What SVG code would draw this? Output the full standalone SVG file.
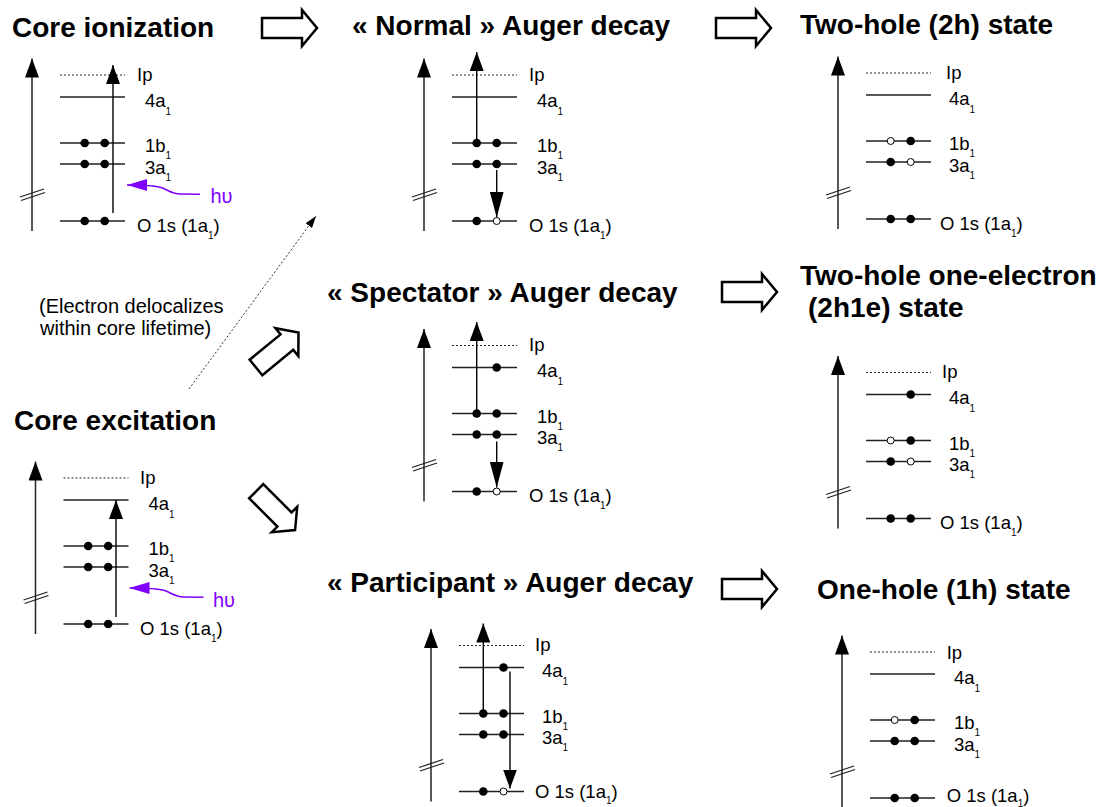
<svg xmlns="http://www.w3.org/2000/svg" width="1103" height="807" viewBox="0 0 1103 807">
<defs>
<style>
.lv{stroke:#222;stroke-width:1.3;fill:none}
.ip{stroke:#222;stroke-width:1;stroke-dasharray:2 2;fill:none}
.ax{stroke:#222;stroke-width:1.5;fill:none;marker-end:url(#ah)}
.ar{stroke:#000;stroke-width:1.4;fill:none;marker-end:url(#ah)}
.arl{stroke:#000;stroke-width:1.4;fill:none;marker-end:url(#ahl)}
.f{fill:#000}
.o{fill:#fff;stroke:#000;stroke-width:1}
.lb{font-family:"Liberation Sans",Arial,sans-serif;font-size:18.5px;fill:#000}
.sb{font-size:10px}
.tt{font-family:"Liberation Sans",Arial,sans-serif;font-size:28px;font-weight:bold;fill:#000}
.nt{font-family:"Liberation Sans",Arial,sans-serif;font-size:20px;fill:#000}
.hv{stroke:#7f00ff;stroke-width:1.5;fill:none;marker-end:url(#hvh)}
.hvt{font-family:"Liberation Sans","DejaVu Sans",sans-serif;font-size:20px;fill:#7f00ff}
.blk{fill:#fff;stroke:#000;stroke-width:2.5;stroke-linejoin:miter}
.dl{stroke:#333;stroke-width:1;stroke-dasharray:2 2;fill:none;marker-end:url(#sm)}
</style>
<marker id="ah" viewBox="0 0 19 14" refX="19" refY="7" markerWidth="19" markerHeight="14" markerUnits="userSpaceOnUse" orient="auto"><path d="M0,0 L19,7 L0,14 Z" fill="#000"/></marker>
<marker id="ahl" viewBox="0 0 26 14" refX="26" refY="7" markerWidth="26" markerHeight="14" markerUnits="userSpaceOnUse" orient="auto"><path d="M0,0 L26,7 L0,14 Z" fill="#000"/></marker>
<marker id="hvh" viewBox="0 0 20 12" refX="20" refY="6" markerWidth="20" markerHeight="12" markerUnits="userSpaceOnUse" orient="auto"><path d="M0,0 L20,6 L0,12 Z" fill="#7f00ff"/></marker>
<marker id="sm" viewBox="0 0 12 8" refX="12" refY="4" markerWidth="12" markerHeight="8" markerUnits="userSpaceOnUse" orient="auto"><path d="M0,0 L12,4 L0,8 Z" fill="#000"/></marker>
<path id="blkarrow" d="M0,-10 L40,-10 L40,-18 L55,0 L40,18 L40,10 L0,10 Z"/>
</defs>
<rect width="1103" height="807" fill="#fff"/>

<g id="titles">
<text class="tt" x="12" y="37">Core ionization</text>
<text class="tt" x="352" y="35">« Normal » Auger decay</text>
<text class="tt" x="800" y="34">Two-hole (2h) state</text>
<text class="tt" x="327" y="302">« Spectator » Auger decay</text>
<text class="tt" x="800" y="285">Two-hole one-electron</text>
<text class="tt" x="808" y="317">(2h1e) state</text>
<text class="tt" x="14" y="430">Core excitation</text>
<text class="tt" x="327" y="592">« Participant » Auger decay</text>
<text class="tt" x="817" y="599">One-hole (1h) state</text>
<text class="nt" x="39" y="313">(Electron delocalizes</text>
<text class="nt" x="40" y="335">within core lifetime)</text>
</g>

<g id="connectors">
<use href="#blkarrow" class="blk" transform="translate(262,28)"/>
<use href="#blkarrow" class="blk" transform="translate(716,28)"/>
<use href="#blkarrow" class="blk" transform="translate(722,292)"/>
<use href="#blkarrow" class="blk" transform="translate(722,589)"/>
<use href="#blkarrow" class="blk" transform="translate(256,367.5) rotate(-39.4)"/>
<use href="#blkarrow" class="blk" transform="translate(256.2,491.2) rotate(45)"/>
<line class="dl" x1="189" y1="389" x2="316" y2="216"/>
</g>

<g id="core-ionization">
<line class="ax" x1="32" y1="231" x2="32" y2="58.5"/>
<path class="lv" d="M20,197 L44,189 M21,200.5 L45,192.5"/>
<line class="ip" x1="60" y1="75" x2="125" y2="75"/>
<path class="lv" d="M60,97H125M60,143H125M60,164H125M60,221H125"/>
<line class="ar" x1="113" y1="213" x2="113" y2="65"/>
<circle class="f" cx="84.7" cy="143" r="4.3"/><circle class="f" cx="104.7" cy="143" r="4.3"/>
<circle class="f" cx="84.7" cy="164" r="4.3"/><circle class="f" cx="104.7" cy="164" r="4.3"/>
<circle class="f" cx="84.7" cy="221" r="4.3"/><circle class="f" cx="104.7" cy="221" r="4.3"/>
<path class="hv" d="M200,194.3 L180,194 C172,193.8 168,190 161,187.5 C156,185.8 150,185 127,185"/>
<text class="hvt" x="210.5" y="203">hυ</text>
<text class="lb" x="137" y="80.7">Ip</text>
<text class="lb" x="145" y="106.7">4a<tspan class="sb" dy="8">1</tspan></text>
<text class="lb" x="145" y="152.3">1b<tspan class="sb" dy="7">1</tspan></text>
<text class="lb" x="145" y="173.5">3a<tspan class="sb" dy="7">1</tspan></text>
<text class="lb" x="137" y="231.7">O 1s (1a<tspan class="sb" dy="7">1</tspan><tspan dy="-7">)</tspan></text>
</g>

<g id="normal-auger" transform="translate(392,0)">
<line class="ax" x1="32" y1="231" x2="32" y2="58.5"/>
<path class="lv" d="M20,197 L44,189 M21,200.5 L45,192.5"/>
<line class="ip" x1="60" y1="75" x2="125" y2="75"/>
<path class="lv" d="M60,97H125M60,143H125M60,164H125M60,221H125"/>
<line class="ar" x1="84.7" y1="143" x2="84.7" y2="52"/>
<line class="arl" x1="104.7" y1="170" x2="104.7" y2="217.5"/>
<circle class="f" cx="84.7" cy="143" r="4.3"/><circle class="f" cx="104.7" cy="143" r="4.3"/>
<circle class="f" cx="84.7" cy="164" r="4.3"/><circle class="f" cx="104.7" cy="164" r="4.3"/>
<circle class="f" cx="84.7" cy="221" r="4.3"/><circle class="o" cx="104.7" cy="221" r="3.5"/>
<text class="lb" x="137" y="80.7">Ip</text>
<text class="lb" x="145" y="106.7">4a<tspan class="sb" dy="8">1</tspan></text>
<text class="lb" x="145" y="152.3">1b<tspan class="sb" dy="7">1</tspan></text>
<text class="lb" x="145" y="173.5">3a<tspan class="sb" dy="7">1</tspan></text>
<text class="lb" x="137" y="231.7">O 1s (1a<tspan class="sb" dy="7">1</tspan><tspan dy="-7">)</tspan></text>
</g>

<g id="two-hole" transform="translate(806,-2)">
<line class="ax" x1="32" y1="231" x2="32" y2="58.5"/>
<path class="lv" d="M20,197 L44,189 M21,200.5 L45,192.5"/>
<line class="ip" x1="60" y1="75" x2="125" y2="75"/>
<path class="lv" d="M60,97H125M60,143H125M60,164H125M60,221H125"/>
<circle class="o" cx="84.7" cy="143" r="3.5"/><circle class="f" cx="104.7" cy="143" r="4.3"/>
<circle class="f" cx="84.7" cy="164" r="4.3"/><circle class="o" cx="104.7" cy="164" r="3.5"/>
<circle class="f" cx="84.7" cy="221" r="4.3"/><circle class="f" cx="104.7" cy="221" r="4.3"/>
<text class="lb" x="140" y="80.7">Ip</text>
<text class="lb" x="143" y="106.7">4a<tspan class="sb" dy="8">1</tspan></text>
<text class="lb" x="143" y="152.3">1b<tspan class="sb" dy="7">1</tspan></text>
<text class="lb" x="143" y="173.5">3a<tspan class="sb" dy="7">1</tspan></text>
<text class="lb" x="134" y="231.7">O 1s (1a<tspan class="sb" dy="7">1</tspan><tspan dy="-7">)</tspan></text>
</g>

<g id="spectator-auger" transform="translate(392,270.5)">
<line class="ax" x1="32" y1="231" x2="32" y2="58.5"/>
<path class="lv" d="M20,197 L44,189 M21,200.5 L45,192.5"/>
<line class="ip" x1="60" y1="75" x2="125" y2="75"/>
<path class="lv" d="M60,97H125M60,143H125M60,164H125M60,221H125"/>
<line class="ar" x1="84.7" y1="143" x2="84.7" y2="51.5"/>
<line class="arl" x1="104.7" y1="171" x2="104.7" y2="217"/>
<circle class="f" cx="104.7" cy="97" r="4.3"/>
<circle class="f" cx="84.7" cy="143" r="4.3"/><circle class="f" cx="104.7" cy="143" r="4.3"/>
<circle class="f" cx="84.7" cy="164" r="4.3"/><circle class="f" cx="104.7" cy="164" r="4.3"/>
<circle class="f" cx="84.7" cy="221" r="4.3"/><circle class="o" cx="104.7" cy="221" r="3.5"/>
<text class="lb" x="137" y="80.7">Ip</text>
<text class="lb" x="145" y="106.7">4a<tspan class="sb" dy="8">1</tspan></text>
<text class="lb" x="145" y="152.3">1b<tspan class="sb" dy="7">1</tspan></text>
<text class="lb" x="145" y="173.5">3a<tspan class="sb" dy="7">1</tspan></text>
<text class="lb" x="137" y="231.7">O 1s (1a<tspan class="sb" dy="7">1</tspan><tspan dy="-7">)</tspan></text>
</g>

<g id="two-hole-one-electron" transform="translate(806,297.5)">
<line class="ax" x1="32" y1="231" x2="32" y2="58.5"/>
<path class="lv" d="M20,197 L44,189 M21,200.5 L45,192.5"/>
<line class="ip" x1="60" y1="75" x2="125" y2="75"/>
<path class="lv" d="M60,97H125M60,143H125M60,164H125M60,221H125"/>
<circle class="f" cx="104.7" cy="97" r="4.3"/>
<circle class="o" cx="84.7" cy="143" r="3.5"/><circle class="f" cx="104.7" cy="143" r="4.3"/>
<circle class="f" cx="84.7" cy="164" r="4.3"/><circle class="o" cx="104.7" cy="164" r="3.5"/>
<circle class="f" cx="84.7" cy="221" r="4.3"/><circle class="f" cx="104.7" cy="221" r="4.3"/>
<text class="lb" x="136" y="80.7">Ip</text>
<text class="lb" x="143" y="106.7">4a<tspan class="sb" dy="8">1</tspan></text>
<text class="lb" x="143" y="152.3">1b<tspan class="sb" dy="7">1</tspan></text>
<text class="lb" x="143" y="173.5">3a<tspan class="sb" dy="7">1</tspan></text>
<text class="lb" x="134" y="231.7">O 1s (1a<tspan class="sb" dy="7">1</tspan><tspan dy="-7">)</tspan></text>
</g>

<g id="core-excitation" transform="translate(3.5,403)">
<line class="ax" x1="32" y1="231" x2="32" y2="58.5"/>
<path class="lv" d="M20,197 L44,189 M21,200.5 L45,192.5"/>
<line class="ip" x1="60" y1="75" x2="125" y2="75"/>
<path class="lv" d="M60,97H125M60,143H125M60,164H125M60,221H125"/>
<line class="ar" x1="112.5" y1="214" x2="112.5" y2="97"/>
<circle class="f" cx="84.7" cy="143" r="4.3"/><circle class="f" cx="104.7" cy="143" r="4.3"/>
<circle class="f" cx="84.7" cy="164" r="4.3"/><circle class="f" cx="104.7" cy="164" r="4.3"/>
<circle class="f" cx="84.7" cy="221" r="4.3"/><circle class="f" cx="104.7" cy="221" r="4.3"/>
<path class="hv" d="M200,194.3 L180,194 C172,193.8 168,190 161,187.5 C156,185.8 150,185 126,185"/>
<text class="hvt" x="209.5" y="203.7">hυ</text>
<text class="lb" x="136.5" y="80.7">Ip</text>
<text class="lb" x="145" y="106.7">4a<tspan class="sb" dy="8">1</tspan></text>
<text class="lb" x="145" y="152.3">1b<tspan class="sb" dy="7">1</tspan></text>
<text class="lb" x="145" y="173.5">3a<tspan class="sb" dy="7">1</tspan></text>
<text class="lb" x="136.5" y="231.7">O 1s (1a<tspan class="sb" dy="7">1</tspan><tspan dy="-7">)</tspan></text>
</g>

<g id="participant-auger" transform="translate(399,570.5)">
<line class="ax" x1="32" y1="231" x2="32" y2="58.5"/>
<path class="lv" d="M20,197 L44,189 M21,200.5 L45,192.5"/>
<line class="ip" x1="60" y1="75" x2="125" y2="75"/>
<path class="lv" d="M60,97H125M60,143H125M60,164H125M60,221H125"/>
<line class="ar" x1="84.3" y1="143" x2="84.3" y2="53"/>
<line class="ar" x1="111" y1="101" x2="111" y2="218"/>
<circle class="f" cx="104.5" cy="97" r="4.3"/>
<circle class="f" cx="84.3" cy="143" r="4.3"/><circle class="f" cx="104.5" cy="143" r="4.3"/>
<circle class="f" cx="84.3" cy="164" r="4.3"/><circle class="f" cx="104.5" cy="164" r="4.3"/>
<circle class="f" cx="84.3" cy="221" r="4.3"/><circle class="o" cx="104.5" cy="221" r="3.5"/>
<text class="lb" x="136" y="80.7">Ip</text>
<text class="lb" x="143" y="106.7">4a<tspan class="sb" dy="8">1</tspan></text>
<text class="lb" x="143" y="152.3">1b<tspan class="sb" dy="7">1</tspan></text>
<text class="lb" x="143" y="173.5">3a<tspan class="sb" dy="7">1</tspan></text>
<text class="lb" x="136" y="227.5">O 1s (1a<tspan class="sb" dy="6">1</tspan><tspan dy="-6">)</tspan></text>
</g>

<g id="one-hole" transform="translate(810,577)">
<line class="ax" x1="32" y1="236" x2="32" y2="58.5"/>
<path class="lv" d="M20,197 L44,189 M21,200.5 L45,192.5"/>
<line class="ip" x1="60" y1="75" x2="125" y2="75"/>
<path class="lv" d="M60,97H125M60,143H125M60,164H125M60,221H125"/>
<circle class="o" cx="84.7" cy="143" r="3.5"/><circle class="f" cx="104.7" cy="143" r="4.3"/>
<circle class="f" cx="84.7" cy="164" r="4.3"/><circle class="f" cx="104.7" cy="164" r="4.3"/>
<circle class="f" cx="84.7" cy="221" r="4.3"/><circle class="f" cx="104.7" cy="221" r="4.3"/>
<text class="lb" x="136.7" y="81.5">Ip</text>
<text class="lb" x="144" y="106.7">4a<tspan class="sb" dy="8">1</tspan></text>
<text class="lb" x="144" y="152.3">1b<tspan class="sb" dy="7">1</tspan></text>
<text class="lb" x="144" y="173.5">3a<tspan class="sb" dy="7">1</tspan></text>
<text class="lb" x="136.7" y="225">O 1s (1a<tspan class="sb" dy="5">1</tspan><tspan dy="-5">)</tspan></text>
</g>
</svg>
